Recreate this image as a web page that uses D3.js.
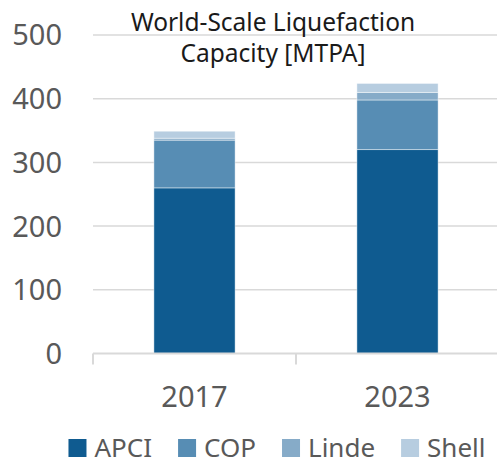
<!DOCTYPE html>
<html>
<head>
<meta charset="utf-8">
<script src="https://cdn.jsdelivr.net/npm/d3@7"></script>
<style>
  body { margin: 0; background: #fff; }
  svg { display: block; font-family: "Noto Sans", sans-serif; }
</style>
</head>
<body>
<div id="chart"></div>
<script>
const width = 497;
const height = 464;

const years = ["2017", "2023"];
const apci = [260, 320];
const cop = [75, 78];
const linde = [3, 12];
const shell = [11, 14];
const seriesNames = ["APCI", "COP", "Linde", "Shell"];
const seriesColors = ["#0f5b90", "#578db4", "#86abc8", "#b7cde0"];
const yTicks = [0, 100, 200, 300, 400, 500];
const titleLines = ["World-Scale Liquefaction", "Capacity [MTPA]"];

const plot = {left: 93, right: 499, top: 35, bottom: 353.5};

const svg = d3.select("#chart").append("svg")
    .attr("width", width)
    .attr("height", height);

const x = d3.scaleBand()
    .domain(years)
    .range([plot.left, plot.right])
    .paddingInner(0.6)
    .paddingOuter(0.3);

const y = d3.scaleLinear()
    .domain([0, 500])
    .range([plot.bottom, plot.top]);

// Gridlines
svg.append("g")
    .selectAll("line")
    .data(yTicks.filter(d => d > 0))
    .enter().append("line")
    .attr("x1", plot.left)
    .attr("x2", width)
    .attr("y1", d => y(d))
    .attr("y2", d => y(d))
    .attr("stroke", "#d9d9d9")
    .attr("stroke-width", 1.5);

// Y tick labels
svg.append("g")
    .selectAll("text")
    .data(yTicks)
    .enter().append("text")
    .attr("x", 62)
    .attr("y", d => y(d))
    .attr("dy", "0.36em")
    .attr("text-anchor", "end")
    .style("font-size", "29px")
    .style("fill", "#595959")
    .text(d => d);

// Stacked bars
const table = years.map((yr, i) => ({
    year: yr, APCI: apci[i], COP: cop[i], Linde: linde[i], Shell: shell[i]
}));
const stacked = d3.stack().keys(seriesNames)(table);

svg.append("g")
    .selectAll("g")
    .data(stacked)
    .enter().append("g")
    .attr("fill", (d, i) => seriesColors[i])
    .selectAll("rect")
    .data(d => d)
    .enter().append("rect")
    .attr("x", d => x(d.data.year))
    .attr("width", x.bandwidth())
    .attr("y", d => y(d[1]))
    .attr("height", d => y(d[0]) - y(d[1]))
    .attr("stroke", "#ffffff")
    .attr("stroke-opacity", 0.6)
    .attr("stroke-width", 0.75);

// X axis line and ticks
svg.append("line")
    .attr("x1", plot.left)
    .attr("x2", width)
    .attr("y1", y(0))
    .attr("y2", y(0))
    .attr("stroke", "#d9d9d9")
    .attr("stroke-width", 2);

const tickXs = years.map(d => x(d) - x.step() * x.paddingOuter());
svg.append("g")
    .selectAll("line")
    .data(tickXs)
    .enter().append("line")
    .attr("x1", d => d)
    .attr("x2", d => d)
    .attr("y1", y(0))
    .attr("y2", y(0) + 11)
    .attr("stroke", "#d9d9d9")
    .attr("stroke-width", 2);

svg.append("g")
    .selectAll("text")
    .data(years)
    .enter().append("text")
    .attr("x", d => x(d) + x.bandwidth() / 2)
    .attr("y", 406.5)
    .attr("text-anchor", "middle")
    .style("font-size", "29px")
    .style("fill", "#595959")
    .text(d => d);

// Title
svg.append("text")
    .attr("x", 273)
    .attr("text-anchor", "middle")
    .style("font-size", "24.5px")
    .style("fill", "#1a1a1a")
    .selectAll("tspan")
    .data(titleLines)
    .enter().append("tspan")
    .attr("x", 273)
    .attr("y", (d, i) => 31 + i * 31)
    .text(d => d);

// Legend, centred like the original
const legend = svg.append("g");
const items = legend.selectAll("g")
    .data(seriesNames)
    .enter().append("g");
items.append("rect")
    .attr("width", 18)
    .attr("height", 18)
    .attr("y", 439)
    .attr("fill", (d, i) => seriesColors[i]);
items.append("text")
    .attr("x", 26)
    .attr("y", 457)
    .style("font-size", "26px")
    .style("fill", "#595959")
    .text(d => d);

let cursor = 0;
items.each(function () {
    const g = d3.select(this);
    g.attr("transform", `translate(${cursor},0)`);
    cursor += 26 + g.select("text").node().getComputedTextLength() + 26;
});
const legendWidth = cursor - 26;
legend.attr("transform", `translate(${277 - legendWidth / 2},0)`);
</script>
</body>
</html>
